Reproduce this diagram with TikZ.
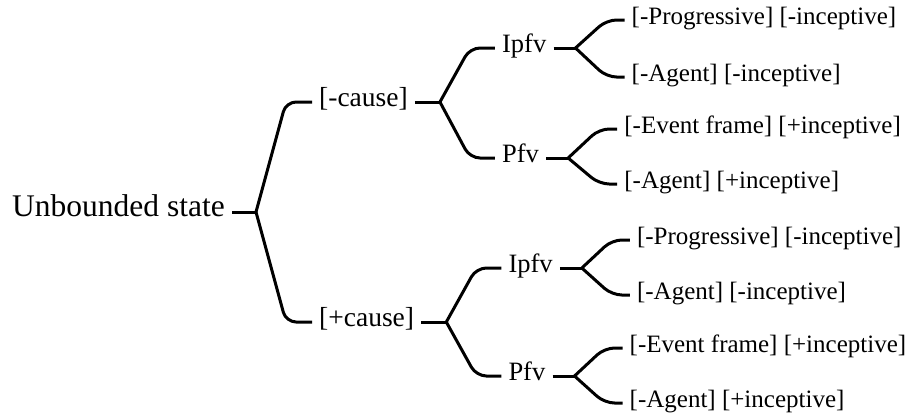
\documentclass[tikz,border=0pt]{standalone}
\usepackage{fontspec}
\setmainfont{Liberation Serif}

\begin{document}
\begin{tikzpicture}[x=1pt,y=-1pt,
    lbl/.style={inner xsep=7pt,inner ysep=0pt,text height=.8em,text depth=0pt,font=\fontsize{#1}{#1}\selectfont},
    br/.style={line width=3pt,rounded corners=10pt}]
    \useasboundingbox(0,0)rectangle(912,418);

    \node[lbl=31.5,anchor=east](us)at(232,212){Unbounded state};
    \coordinate(bus)at([xshift=24pt]us.east);
    \node[lbl=27.5,anchor=west](nc)at(312,102){[-cause]};
    \node[lbl=27.5,anchor=west](pc)at(312,322){[+cause]};
    \coordinate(bnc)at([xshift=25pt]nc.east);
    \coordinate(bpc)at([xshift=25pt]pc.east);

    \path(bnc)++(55,-54)node[lbl=26.5,anchor=west](nci){Ipfv};
    \path(bnc)++(55,56)node[lbl=26.5,anchor=west](ncp){Pfv};
    \path(bpc)++(55,-54)node[lbl=26.5,anchor=west](pci){Ipfv};
    \path(bpc)++(55,54)node[lbl=26.5,anchor=west](pcp){Pfv};
    \coordinate(bnci)at([xshift=22pt]nci.east);
    \coordinate(bncp)at([xshift=22pt]ncp.east);
    \coordinate(bpci)at([xshift=22pt]pci.east);
    \coordinate(bpcp)at([xshift=22pt]pcp.east);

    \path(bnci)++(49,-28)node[lbl=25,anchor=west](nci1){[-Progressive] [-inceptive]};
    \path(bnci)++(49,29)node[lbl=25,anchor=west](nci2){[-Agent] [-inceptive]};
    \path(bncp)++(49,-29)node[lbl=25,anchor=west](ncp1){[-Event frame] [+inceptive]};
    \path(bncp)++(49,26)node[lbl=25,anchor=west](ncp2){[-Agent] [+inceptive]};
    \path(bpci)++(48,-28)node[lbl=25,anchor=west](pci1){[-Progressive] [-inceptive]};
    \path(bpci)++(48,27)node[lbl=25,anchor=west](pci2){[-Agent] [-inceptive]};
    \path(bpcp)++(48,-28)node[lbl=25,anchor=west](pcp1){[-Event frame] [+inceptive]};
    \path(bpcp)++(48,27)node[lbl=25,anchor=west](pcp2){[-Agent] [+inceptive]};

    % stubs
    \draw[br](us.east)--(bus);
    \draw[br](nc.east)--(bnc);
    \draw[br](pc.east)--(bpc);
    \draw[br](nci.east)--(bnci);
    \draw[br](ncp.east)--(bncp);
    \draw[br](pci.east)--(bpci);
    \draw[br](pcp.east)--(bpcp);

    % branches
    \draw[br](bus)--([xshift=-26pt]nc.west)--(nc.west);
    \draw[br](bus)--([xshift=-26pt]pc.west)--(pc.west);
    \draw[br](bnc)--([xshift=-25pt]nci.west)--(nci.west);
    \draw[br](bnc)--([xshift=-25pt]ncp.west)--(ncp.west);
    \draw[br](bpc)--([xshift=-25pt]pci.west)--(pci.west);
    \draw[br](bpc)--([xshift=-25pt]pcp.west)--(pcp.west);
    \draw[br](bnci)--([xshift=-18pt]nci1.west)--(nci1.west);
    \draw[br](bnci)--([xshift=-18pt]nci2.west)--(nci2.west);
    \draw[br](bncp)--([xshift=-18pt]ncp1.west)--(ncp1.west);
    \draw[br](bncp)--([xshift=-18pt]ncp2.west)--(ncp2.west);
    \draw[br](bpci)--([xshift=-18pt]pci1.west)--(pci1.west);
    \draw[br](bpci)--([xshift=-18pt]pci2.west)--(pci2.west);
    \draw[br](bpcp)--([xshift=-18pt]pcp1.west)--(pcp1.west);
    \draw[br](bpcp)--([xshift=-18pt]pcp2.west)--(pcp2.west);
\end{tikzpicture}
\end{document}
